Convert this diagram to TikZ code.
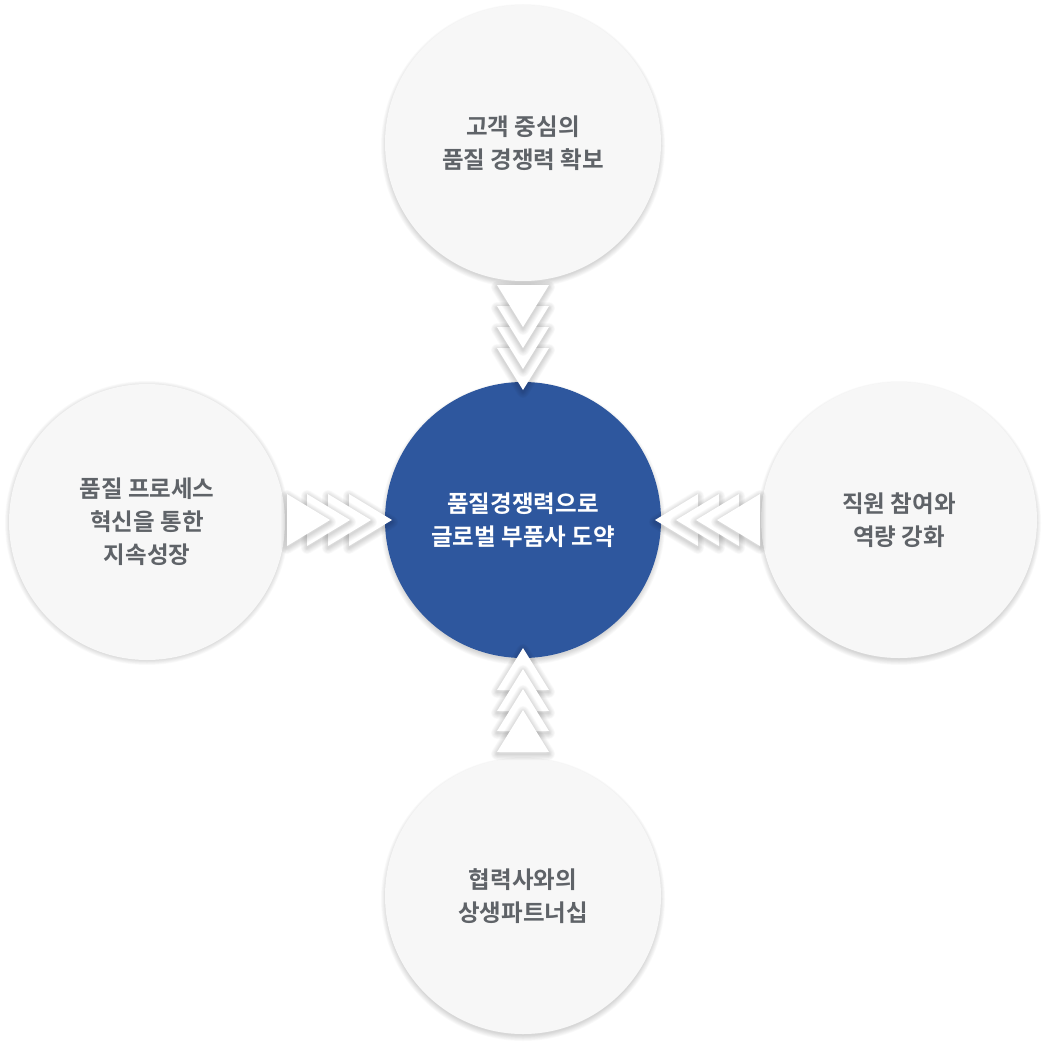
\documentclass[tikz,border=0pt]{standalone}
\usepackage{fontspec}
\newfontfamily\krfont{Noto Sans CJK KR}[BoldFont={Noto Sans CJK KR Bold}]
\definecolor{discfill}{HTML}{F7F7F7}
\definecolor{coreblue}{HTML}{2E579E}
\definecolor{labelgray}{HTML}{5F6368}
% soft shadow: the same outline stroked several times with widening, faint pens
\newcommand\haze[2]{%
  \foreach \w in {1.5,3,...,12}
    \draw[line width=\w pt,draw=black,draw opacity=0.018,line join=round,shift={(0,#2)}] #1;}
\begin{document}
\begin{tikzpicture}[x=1pt,y=-1pt,
  disc/.style={circle,minimum size=276pt,inner sep=0pt,outer sep=0pt,fill=discfill,
    text=labelgray,align=center,font=\krfont\bfseries\fontsize{23.5}{33}\selectfont},
  core/.style={disc,fill=coreblue,text=white},
  chevron/.style={fill=white}
]
\fill[white] (0,0) rectangle (1046,1046);
\useasboundingbox (0,0) rectangle (1046,1046);

% disc shadows
\foreach \cx/\cy in {523/143,147/520,899/520,523/896,523/520}
  \haze{(\cx,\cy) circle (136)}{3};

% outer discs
\node[disc] (top) at (523,143) {고객 중심의\\품질 경쟁력 확보};
\node[disc] (left) at (147,522) {품질 프로세스\\혁신을 통한\\지속성장};
\node[disc] (right) at (899,520) {직원 참여와\\역량 강화};
\node[disc] (bottom) at (523,896) {협력사와의\\상생파트너십};

% central disc
\node[core] (center) at (523,520) {품질경쟁력으로\\글로벌 부품사 도약};

% stacked arrow heads, nearest to the centre drawn first
\foreach \t in {390,369,348,327}{
  \haze{(497,\t-42) -- (549,\t-42) -- (523,\t) -- cycle}{2}
  \fill[chevron] (497,\t-42) -- (549,\t-42) -- (523,\t) -- cycle;}
\foreach \t in {648,669,689,710}{
  \haze{(497,\t+42) -- (549,\t+42) -- (523,\t) -- cycle}{2}
  \fill[chevron] (497,\t+42) -- (549,\t+42) -- (523,\t) -- cycle;}
\foreach \t in {392,371,350,330}{
  \haze{(\t-43,494) -- (\t-43,546) -- (\t,520) -- cycle}{2}
  \fill[chevron] (\t-43,494) -- (\t-43,546) -- (\t,520) -- cycle;}
\foreach \t in {655,676,696,717}{
  \haze{(\t+43,494) -- (\t+43,546) -- (\t,520) -- cycle}{2}
  \fill[chevron] (\t+43,494) -- (\t+43,546) -- (\t,520) -- cycle;}
\end{tikzpicture}
\end{document}
